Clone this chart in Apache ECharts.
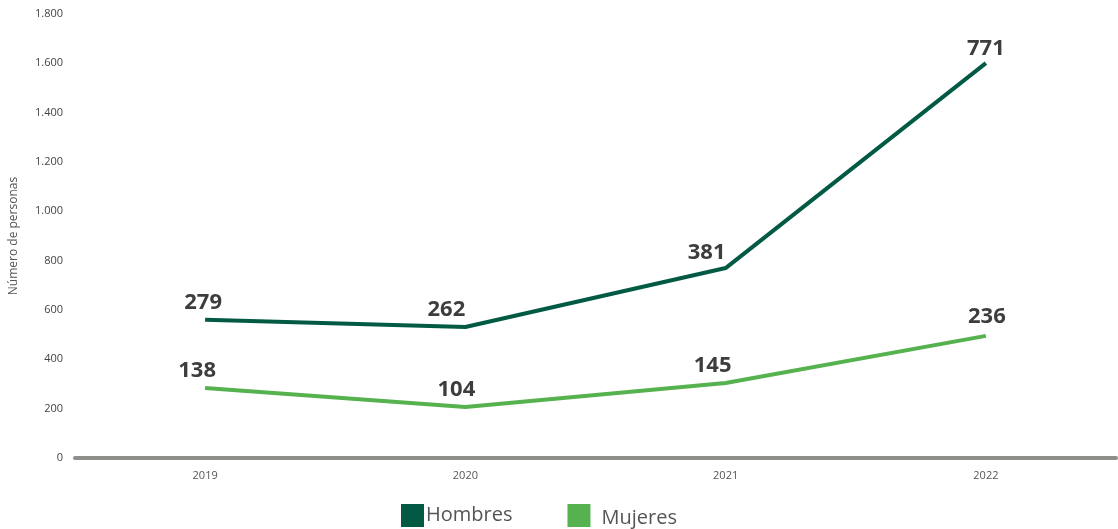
<!DOCTYPE html>
<html>
<head>
<meta charset="utf-8">
<script src="https://cdn.jsdelivr.net/npm/echarts@6/dist/echarts.min.js"></script>
<style>
html,body{margin:0;padding:0;background:#fff;}
#chart{width:1118px;height:529px;}
</style>
</head>
<body>
<div id="chart"></div>
<script>
var categories = ['2019', '2020', '2021', '2022'];
var hombresValues = [560, 531, 770, 1601];
var mujeresValues = [284, 207, 304, 495];
var hombresLabels = ['279', '262', '381', '771'];
var mujeresLabels = ['138', '104', '145', '236'];
var yTicks = [0, 200, 400, 600, 800, 1000, 1200, 1400, 1600, 1800];

var hOffsets = [[-2, 0], [-19, 0], [-19, 2], [0, 3]];
var mOffsets = [[-8, 0], [-9, 0], [-13, 0], [1, -2]];

function build(values, labels, offsets) {
  return values.map(function (v, i) {
    return { value: v, label: { offset: offsets[i], formatter: labels[i] } };
  });
}

var chart = echarts.init(document.getElementById('chart'));
var labelStyle = {
  show: true,
  position: 'top',
  distance: 6,
  fontFamily: 'Open Sans',
  fontWeight: 'bold',
  fontSize: 22,
  color: '#3d3d3d'
};
chart.setOption({
  animation: false,
  grid: { left: 72, right: 2, top: 14, bottom: 71 },
  legend: {
    left: 396,
    top: 499,
    itemWidth: 23,
    itemHeight: 23,
    itemGap: 55,
    icon: 'rect',
    textStyle: {
      fontFamily: 'Open Sans', fontSize: 20, color: '#555', padding: [0, 0, 0, -3],
      rich: { m: { fontFamily: 'Open Sans', fontSize: 20, color: '#555', padding: [5, 0, 0, 9] } }
    },
    formatter: function (name) { return name === 'Mujeres' ? '{m|' + name + '}' : name; },
    data: ['Hombres', 'Mujeres']
  },
  xAxis: {
    type: 'category',
    data: categories,
    boundaryGap: true,
    axisLine: { show: true, lineStyle: { color: '#8e8e8a', width: 4 } },
    axisTick: { show: false },
    axisLabel: { fontFamily: 'Open Sans', fontSize: 11, color: '#555', margin: 12 }
  },
  yAxis: {
    type: 'value',
    min: 0,
    max: 1800,
    interval: 200,
    name: 'Número de personas',
    nameLocation: 'middle',
    nameGap: 55,
    nameTextStyle: { fontFamily: 'Open Sans', fontSize: 12, color: '#555' },
    axisLine: { show: false },
    axisTick: { show: false },
    splitLine: { show: false },
    axisLabel: {
      fontFamily: 'Open Sans',
      fontSize: 11,
      color: '#444',
      margin: 12,
      formatter: function (v) {
        return String(v).replace(/\B(?=(\d{3})+(?!\d))/g, '.');
      }
    }
  },
  series: [
    {
      name: 'Hombres',
      type: 'line',
      data: build(hombresValues, hombresLabels, hOffsets),
      symbol: 'circle',
      symbolSize: 0.1,
      showSymbol: true,
      itemStyle: { color: '#025a45' },
      lineStyle: { color: '#025a45', width: 4 },
      label: labelStyle
    },
    {
      name: 'Mujeres',
      type: 'line',
      data: build(mujeresValues, mujeresLabels, mOffsets),
      symbol: 'circle',
      symbolSize: 0.1,
      showSymbol: true,
      itemStyle: { color: '#56b24f' },
      lineStyle: { color: '#56b24f', width: 4 },
      label: labelStyle
    }
  ]
});
</script>
</body>
</html>
